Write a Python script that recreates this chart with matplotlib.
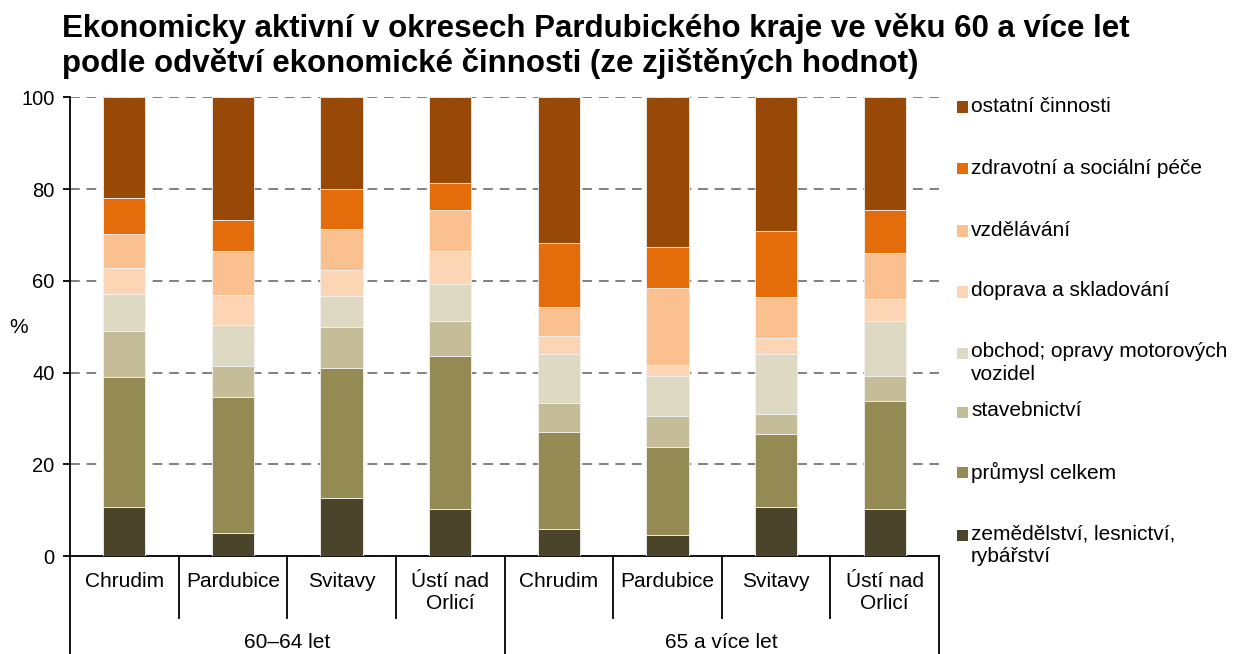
import matplotlib
matplotlib.use("Agg")
import matplotlib.pyplot as plt
from matplotlib.patches import Rectangle
import numpy as np

plt.rcParams['font.family'] = ['Liberation Sans', 'DejaVu Sans']

districts = ["Chrudim", "Pardubice", "Svitavy", "Ústí nad\nOrlicí",
             "Chrudim", "Pardubice", "Svitavy", "Ústí nad\nOrlicí"]
groups = ["60–64 let", "65 a více let"]

series_names = ["zemědělství, lesnictví,\nrybářství", "průmysl celkem", "stavebnictví",
                "obchod; opravy motorových\nvozidel", "doprava a skladování", "vzdělávání",
                "zdravotní a sociální péče", "ostatní činnosti"]

agri      = [10.6, 5.0, 12.7, 10.2, 5.9, 4.6, 10.6, 10.2]
industry  = [28.4, 29.7, 28.3, 33.4, 21.2, 19.2, 16.0, 23.6]
constr    = [10.1, 6.8, 9.0, 7.7, 6.3, 6.7, 4.4, 5.5]
trade     = [8.1, 8.8, 6.7, 8.0, 10.7, 8.8, 13.1, 12.0]
transport = [5.6, 6.5, 5.6, 7.2, 3.8, 2.3, 3.5, 4.7]
education = [7.5, 9.7, 8.9, 8.9, 6.4, 16.8, 8.8, 10.0]
health    = [7.7, 6.7, 8.8, 5.9, 13.9, 8.9, 14.4, 9.4]
other     = [22.0, 26.8, 20.0, 18.7, 31.8, 32.7, 29.2, 24.6]

colors = ["#4A452A", "#948A54", "#C4BD97", "#DDD9C3", "#FCD5B5", "#FAC090", "#E46C0A", "#984807"]
series = [agri, industry, constr, trade, transport, education, health, other]

W, H = 1236, 654
fig = plt.figure(figsize=(W/100, H/100), dpi=100)
ax = fig.add_axes([70/W, (H-556)/H, (939-70)/W, (556-97.3)/H])

x = np.arange(len(districts))
bottom = np.zeros(len(districts))
for vals, c in zip(series, colors):
    ax.bar(x, vals, width=0.39, bottom=bottom, color=c, edgecolor='#f2f2f2',
           linewidth=0.6, zorder=3)
    bottom += np.array(vals)

ax.set_xlim(-0.5, len(districts) - 0.5)
ax.set_ylim(0, 100)
ax.set_yticks([0, 20, 40, 60, 80, 100])
ax.tick_params(axis='y', labelsize=14.5, length=5, width=1.3, direction='out', pad=6)
ax.set_xticks([])
for sp in ['top', 'right']:
    ax.spines[sp].set_visible(False)
ax.spines['left'].set_linewidth(1.3)
ax.spines['bottom'].set_linewidth(1.3)
ax.yaxis.grid(True, color='#808080', linestyle=(0, (5, 3.5)), linewidth=1.4, zorder=0)
ax.set_axisbelow(True)

# category labels and separators
ah = 556 - 97.3
tr = ax.get_xaxis_transform()
for i, lab in enumerate(districts):
    ax.text(i, -16/ah, lab, transform=tr, ha='center', va='top', fontsize=15,
            linespacing=1.2)
n = len(districts)
for b in np.arange(-0.5, n, 1.0):
    if b in (-0.5, 3.5, n - 0.5):
        ax.plot([b, b], [0, -110/ah], transform=tr, color='black', lw=1.3, clip_on=False)
    else:
        ax.plot([b, b], [0, -62/ah], transform=tr, color='black', lw=1.3, clip_on=False)
for gi, g in enumerate(groups):
    ax.text(gi * 4 + 1.5, -86/ah, g, transform=tr, ha='center', va='center', fontsize=15)

# y label
fig.text(19/W, 1 - 328/H, "%", ha='center', va='center', fontsize=15)

# title
fig.text(62/W, 1 - 13/H,
         "Ekonomicky aktivní v okresech Pardubického kraje ve věku 60 a více let\n"
         "podle odvětví ekonomické činnosti (ze zjištěných hodnot)",
         ha='left', va='top', fontsize=22.5, fontweight='bold', linespacing=1.16)

# legend (top to bottom, reverse order)
leg_y = [107, 169, 231, 292, 353, 412, 472, 535]
for k, yy in enumerate(leg_y):
    idx = len(series) - 1 - k
    fig.patches.append(Rectangle((957/W, 1 - (yy + 5.5)/H), 11/W, 11/H,
                                 transform=fig.transFigure, facecolor=colors[idx],
                                 edgecolor='none'))
    fig.text(971/W, 1 - (yy - 10.5)/H, series_names[idx], ha='left', va='top',
             fontsize=15, linespacing=1.25)

fig.savefig("out.png", dpi=100)
